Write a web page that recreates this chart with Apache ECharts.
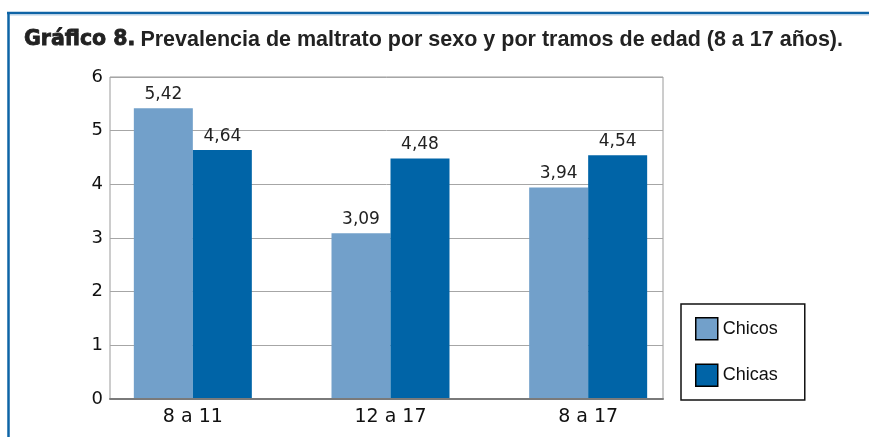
<!DOCTYPE html>
<html>
<head>
    <meta charset="utf-8">
    <script src="https://cdn.jsdelivr.net/npm/echarts@6/dist/echarts.min.js"></script>
</head>
<body>
    <div id="chart"></div>
</body>
<style>
    body {
        margin: 0;
        background: #fff;
    }

    #chart {
        width: 869px;
        height: 437px;
    }
</style>
<script>
    const categories = ['8 a 11', '12 a 17', '8 a 17']
    const chicos = [5.42, 3.09, 3.94]
    const chicas = [4.64, 4.48, 4.54]
    const yTicks = [0, 1, 2, 3, 4, 5, 6]

    const chart = echarts.init(document.getElementById('chart'))

    const barLabel = {
        show: true,
        position: 'top',
        distance: 5,
        fontFamily: 'DejaVu Sans',
        fontSize: 17,
        color: '#222',
        formatter: p => String(p.value.toFixed(2)).replace('.', ',')
    }

    const option = {
        animation: false,
        title: {
            left: 19,
            top: 24,
            text: '{a|Gráfico 8.} {b|Prevalencia de maltrato por sexo y por tramos de edad (8 a 17 años).}',
            textStyle: {
                rich: {
                    a: {
                        fontFamily: 'DejaVu Sans',
                        fontWeight: 'bold',
                        fontSize: 20.5,
                        color: '#222',
                        textBorderColor: '#222',
                        textBorderWidth: 0.8
                    },
                    b: {
                        fontFamily: 'Liberation Sans',
                        fontWeight: 'bold',
                        fontSize: 21.5,
                        color: '#222'
                    }
                }
            }
        },
        // marco azul del recuadro
        graphic: [
            { type: 'line', shape: { x1: 7, y1: 13, x2: 869, y2: 13 }, style: { stroke: '#0e64a6', lineWidth: 2.5 } },
            { type: 'line', shape: { x1: 10, y1: 15, x2: 869, y2: 15 }, style: { stroke: '#b4cde3', lineWidth: 1 } },
            { type: 'line', shape: { x1: 8.5, y1: 12, x2: 8.5, y2: 437 }, style: { stroke: '#0e64a6', lineWidth: 2.5 } }
        ],
        legend: {
            orient: 'vertical',
            left: 681,
            top: 304,
            borderColor: '#111',
            borderWidth: 1.5,
            padding: [13, 27, 13, 14],
            itemWidth: 22,
            itemHeight: 22,
            itemGap: 23,
            icon: 'rect',
            itemStyle: { borderColor: '#000', borderWidth: 1.5 },
            textStyle: { fontFamily: 'Liberation Sans', fontSize: 18, color: '#111' },
            data: ['Chicos', 'Chicas']
        },
        grid: [
            { left: 110, right: 206, top: 77, bottom: 38, show: true, borderColor: '#9a9a9a', borderWidth: 1 },
            { left: 94, right: 182, top: 77, bottom: 38 }
        ],
        xAxis: [
            {
                type: 'category',
                gridIndex: 0,
                data: categories,
                axisTick: { show: false },
                axisLabel: { show: false },
                axisLine: { lineStyle: { color: '#7a7a7a', width: 2 } },
                z: 5
            },
            {
                type: 'category',
                gridIndex: 1,
                data: categories,
                axisTick: { show: false },
                axisLine: { show: false },
                axisLabel: { fontFamily: 'DejaVu Sans', fontSize: 19, color: '#111', margin: 9 }
            }
        ],
        yAxis: [
            {
                type: 'value',
                gridIndex: 0,
                min: yTicks[0],
                max: yTicks[yTicks.length - 1],
                interval: 1,
                axisLine: { show: false },
                axisTick: { show: false },
                axisLabel: { fontFamily: 'DejaVu Sans', fontSize: 18, color: '#111', margin: 7 },
                splitLine: { lineStyle: { color: '#a6a6a6', width: 1 } }
            },
            {
                type: 'value',
                gridIndex: 1,
                min: yTicks[0],
                max: yTicks[yTicks.length - 1],
                show: false
            }
        ],
        series: [
            {
                name: 'Chicos',
                type: 'bar',
                xAxisIndex: 1,
                yAxisIndex: 1,
                barWidth: 59,
                barGap: '0%',
                itemStyle: { color: '#72a0ca' },
                label: barLabel,
                data: chicos
            },
            {
                name: 'Chicas',
                type: 'bar',
                xAxisIndex: 1,
                yAxisIndex: 1,
                barWidth: 59,
                barGap: '0%',
                itemStyle: { color: '#0064a7' },
                label: barLabel,
                data: chicas
            }
        ]
    }

    chart.setOption(option)
</script>
</html>
